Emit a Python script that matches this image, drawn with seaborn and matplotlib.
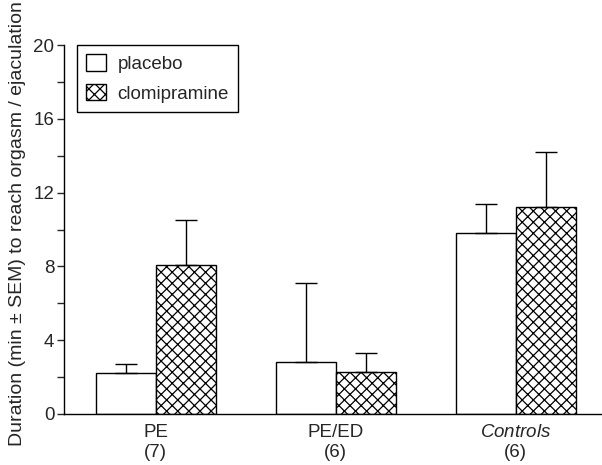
import pandas as pd
import matplotlib
matplotlib.use("Agg")
import matplotlib.pyplot as plt
import seaborn as sns
from matplotlib.patches import Patch

# values
groups = ["PE", "PE/ED", "Controls"]
group_n = ["(7)", "(6)", "(6)"]
treatments = ["placebo", "clomipramine"]
placebo_mean = [2.2, 2.8, 9.8]
placebo_sem = [0.5, 4.3, 1.6]
clomi_mean = [8.1, 2.3, 11.2]
clomi_sem = [2.4, 1.0, 3.0]
y_ticks = [0, 2, 4, 6, 8, 10, 12, 14, 16, 18, 20]

df = pd.DataFrame({
    "group": groups * 2,
    "treatment": [treatments[0]] * 3 + [treatments[1]] * 3,
    "mean": placebo_mean + clomi_mean,
    "sem": placebo_sem + clomi_sem,
})

sns.set_style("white")
plt.rcParams["font.family"] = ["Liberation Sans", "DejaVu Sans"]
plt.rcParams["mathtext.fontset"] = "custom"
plt.rcParams["mathtext.it"] = "Liberation Sans:italic"
plt.rcParams["mathtext.rm"] = "Liberation Sans"
plt.rcParams["hatch.linewidth"] = 0.9

fig = plt.figure(figsize=(6.02, 4.65), dpi=100)
ax = fig.add_axes([0.1063, 0.1097, 0.8937, 0.7935])

sns.barplot(data=df, x="group", y="mean", hue="treatment", order=groups,
            hue_order=treatments, palette=["white", "white"], errorbar=None,
            width=0.667, gap=0, edgecolor="black", linewidth=1.0,
            legend=False, ax=ax)

hatches = ["", "xxx"]
for cont, hatch, tr in zip(ax.containers, hatches, treatments):
    sub = df[df["treatment"] == tr].set_index("group").loc[groups]
    xs = []
    for bar in cont:
        bar.set_hatch(hatch)
        bar.set_edgecolor("black")
        xs.append(bar.get_x() + bar.get_width() / 2)
    ax.errorbar(xs, sub["mean"], yerr=[[0] * 3, list(sub["sem"])], fmt="none",
                ecolor="black", elinewidth=1.0, capsize=8, capthick=1.0,
                zorder=1)

ax.set_ylim(0, 20)
ax.set_xlim(-0.51, 2.48)
ax.set_yticks(y_ticks)
ax.set_yticklabels([str(v) if v % 4 == 0 else "" for v in y_ticks], fontsize=13.5)
ax.set_xticks(range(3))
labels = []
for g, n in zip(groups, group_n):
    if g == "Controls":
        labels.append(r"$\mathit{Controls}$" + "\n" + n)
    else:
        labels.append(g + "\n" + n)
ax.set_xticklabels(labels, fontsize=13.5, linespacing=1.25)
ax.tick_params(axis="y", direction="out", length=5, width=1, left=True, pad=2)
ax.tick_params(axis="x", length=0, pad=7)

ax.set_xlabel("")
ax.set_ylabel("Duration (min \u00b1 SEM) to reach orgasm / ejaculation",
              fontsize=14)
ax.yaxis.set_label_coords(-0.0855, 0.515)
ax.yaxis.label.set_va("center")

for s in ["top", "right"]:
    ax.spines[s].set_visible(False)
for s in ["left", "bottom"]:
    ax.spines[s].set_color("black")
    ax.spines[s].set_linewidth(1.0)

handles = [Patch(facecolor="white", edgecolor="black", hatch=h, label=t)
           for h, t in zip(hatches, treatments)]
leg = ax.legend(handles=handles, loc="upper left", bbox_to_anchor=(0.024, 1.0),
                borderaxespad=0, fancybox=False, framealpha=1,
                edgecolor="black", fontsize=13.5, handlelength=1.07,
                handleheight=0.95, borderpad=0.5, labelspacing=0.6,
                handletextpad=0.6)
leg.get_frame().set_linewidth(1.0)

fig.savefig("out.png", dpi=100)
